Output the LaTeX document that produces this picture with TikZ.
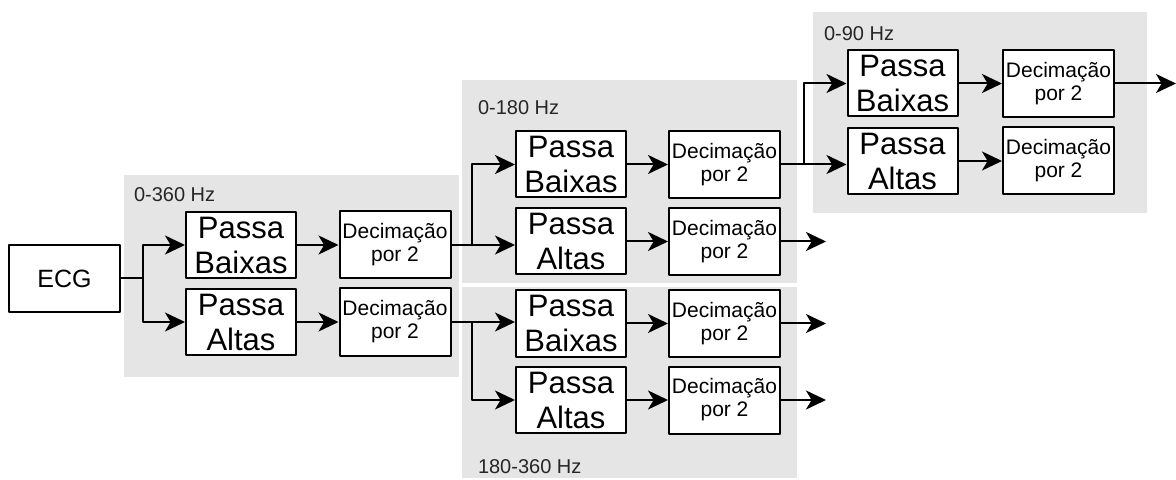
\documentclass[tikz,border=0pt]{standalone}
\usepackage{fontspec}
\setmainfont{Liberation Sans}
\usetikzlibrary{arrows.meta}

\tikzset{
  filtro/.style={draw, fill=white, minimum width=55pt, minimum height=33pt,
    inner sep=0pt, align=center, font=\fontsize{15.5}{17.5}\selectfont},
  decim/.style={draw, fill=white, minimum width=55.5pt, minimum height=33.5pt,
    inner sep=0pt, align=center, font=\fontsize{10.5}{11.5}\selectfont},
  faixa/.style={anchor=west, inner sep=0pt, text=black!85,
    font=\fontsize{10}{12}\selectfont},
}

\begin{document}
\begin{tikzpicture}[x=0.5pt,y=-0.5pt,>={Stealth[length=10pt,width=9.5pt,inset=2.8pt]},line join=bevel]
\pgfsetlinewidth{1pt}
\pgfsetcolor{black}
\definecolor{panelcol}{rgb}{0.9,0.9,0.9}
\useasboundingbox (0,0) rectangle (1176,480);

% Panels
\fill[panelcol] (124,175) rectangle (459,377);
\fill[panelcol] (462,80) rectangle (797,283);
\fill[panelcol] (462,287) rectangle (797,478);
\fill[panelcol] (813,12) rectangle (1147,213);

\node[faixa] (f1) at (133,195) {0-360 Hz};
\node[faixa] (f2) at (477,108) {0-180 Hz};
\node[faixa] (f3) at (477,467) {180-360 Hz};
\node[faixa] (f4) at (823,34) {0-90 Hz};

% Node: ECG
\node[draw, fill=white, minimum width=55.5pt, minimum height=33.5pt,
  font=\fontsize{12.5}{15}\selectfont] (ecg) at (64.5,278.5) {ECG};

% Nodes: stage 1
\node[filtro] (pb1) at (241,245) {Passa\\Baixas};
\node[filtro] (pa1) at (241,322) {Passa\\Altas};
\node[decim] (dc1a) at (395,245) {Decimação\\por 2};
\node[decim] (dc1b) at (395,322) {Decimação\\por 2};

% Nodes: stage 2
\node[filtro] (pb2) at (571,164.5) {Passa\\Baixas};
\node[filtro] (pa2) at (571,241.5) {Passa\\Altas};
\node[decim] (dc2a) at (724.5,164.5) {Decimação\\por 2};
\node[decim] (dc2b) at (724.5,241.5) {Decimação\\por 2};
\node[filtro] (pb3) at (571,323.5) {Passa\\Baixas};
\node[filtro] (pa3) at (571,400) {Passa\\Altas};
\node[decim] (dc3a) at (724.5,323.5) {Decimação\\por 2};
\node[decim] (dc3b) at (724.5,400) {Decimação\\por 2};

% Nodes: stage 3
\node[filtro] (pb4) at (902.5,83.5) {Passa\\Baixas};
\node[filtro] (pa4) at (902.5,161) {Passa\\Altas};
\node[decim] (dc4a) at (1058.5,83.5) {Decimação\\por 2};
\node[decim] (dc4b) at (1058.5,161) {Decimação\\por 2};

% Edge: ECG -> pb1, pa1
\draw (ecg.east) -- ++(22,0) coordinate (s1);
\draw[->] (s1) |- (pb1.west);
\draw[->] (s1) |- (pa1.west);

% Edges: filter -> decimation
\draw[->] (pb1.east) -- (dc1a.west);
\draw[->] (pa1.east) -- (dc1b.west);
\draw[->] (pb2.east) -- (dc2a.west);
\draw[->] (pa2.east) -- (dc2b.west);
\draw[->] (pb3.east) -- (dc3a.west);
\draw[->] (pa3.east) -- (dc3b.west);
\draw[->] (pb4.east) -- (dc4a.west);
\draw[->] (pa4.east) -- (dc4b.west);

% Edge: dc1a -> pb2, pa2
\draw[->] (dc1a.east) -- ++(20,0) coordinate (s2) -- (pa2.west |- s2);
\draw[->] (s2) |- (pb2.west);

% Edge: dc1b -> pb3, pa3
\draw[->] (dc1b.east) -- ++(20,0) coordinate (s3) -- (pb3.west |- s3);
\draw[->] (s3) |- (pa3.west);

% Edge: dc2a -> pb4, pa4
\draw[->] (dc2a.east) -- ++(23,0) coordinate (s4) -- (pa4.west |- s4);
\draw[->] (s4) |- (pb4.west);

% Outputs
\draw[->] (dc2b.east) -- ++(45,0) coordinate (o2);
\draw[->] (dc3a.east) -- ++(45,0) coordinate (o3);
\draw[->] (dc3b.east) -- ++(45,0) coordinate (o4);
\draw[->] (dc4a.east) -- ++(61,0) coordinate (o1);
%
\end{tikzpicture}
\end{document}
